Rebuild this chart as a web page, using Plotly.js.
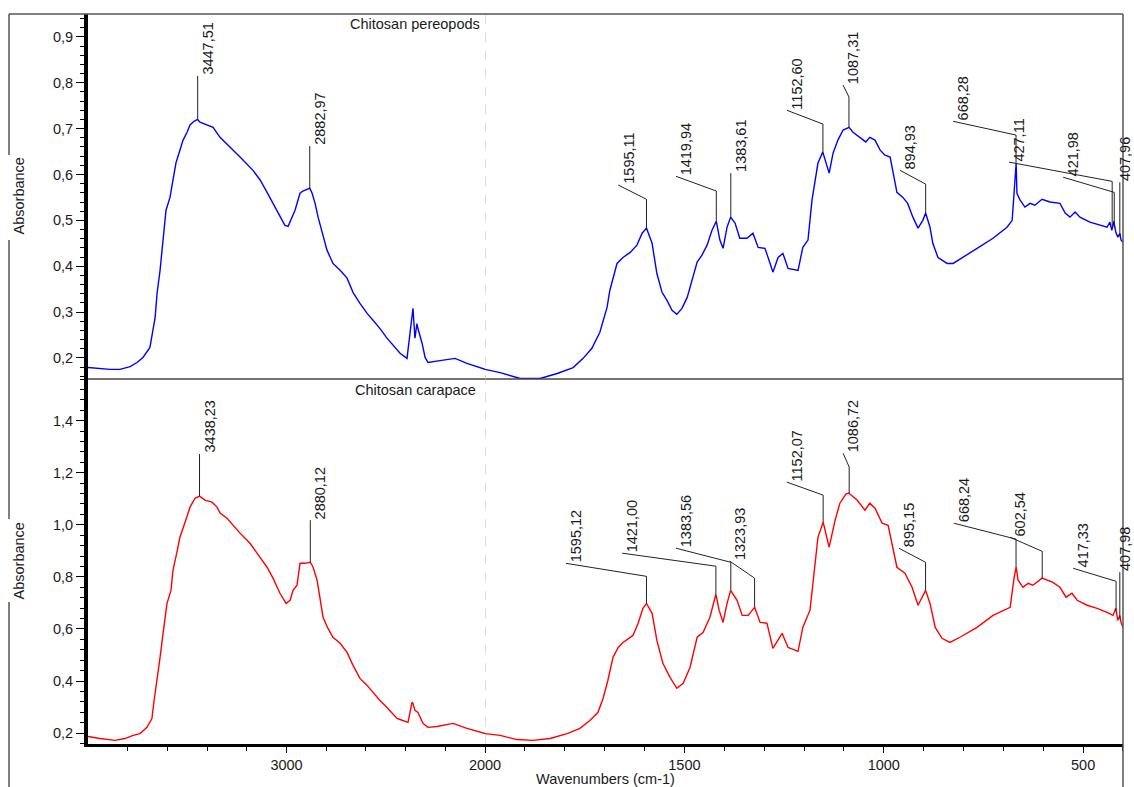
<!DOCTYPE html>
<html><head><meta charset="utf-8">
<script src="https://cdn.plot.ly/plotly-3.0.1.min.js"></script>
<style>html,body{margin:0;padding:0;background:#fff}#chart{width:1134px;height:787px}</style>
</head><body><div id="chart"></div>
<script>
// ---------- DATA ----------
const wnTop = [4000,3940,3889,3839,3788,3753,3723,3688,3673,3662,3652,3637,3622,3607,3587,3572,3557,3537,3521,3501,3486,3466,3448,3436,3400,3370,3335,3285,3234,3169,3133,3098,3068,3033,3008,2992,2972,2957,2932,2917,2900,2883,2871,2856,2841,2821,2796,2766,2730,2695,2665,2630,2594,2564,2529,2494,2443,2428,2393,2373,2363,2353,2343,2338,2317,2302,2287,2227,2151,2091,2010,2000,1962,1912,1862,1819,1779,1754,1732,1712,1694,1687,1679,1669,1654,1636,1619,1606,1595,1581,1569,1556,1544,1531,1519,1506,1493,1481,1468,1456,1443,1431,1420,1411,1403,1393,1384,1373,1361,1343,1328,1315,1298,1285,1278,1265,1253,1240,1215,1203,1190,1180,1172,1165,1153,1137,1127,1115,1102,1087,1077,1060,1045,1035,1022,1009,997,984,977,967,952,940,927,914,902,895,884,877,864,841,826,801,766,726,691,678,673,668,666,658,646,633,621,603,583,558,545,533,520,508,483,458,440,433,428,423,418,413,408,405,400];
const absTop = [0.179,0.177,0.175,0.175,0.181,0.190,0.201,0.223,0.260,0.288,0.341,0.391,0.457,0.522,0.550,0.588,0.625,0.653,0.675,0.692,0.708,0.716,0.720,0.714,0.708,0.703,0.681,0.660,0.638,0.609,0.588,0.561,0.537,0.507,0.489,0.487,0.507,0.522,0.559,0.564,0.567,0.570,0.559,0.537,0.507,0.472,0.435,0.406,0.391,0.374,0.343,0.319,0.297,0.282,0.264,0.243,0.216,0.210,0.199,0.282,0.308,0.243,0.275,0.264,0.232,0.201,0.190,0.194,0.199,0.188,0.177,0.175,0.168,0.155,0.155,0.166,0.179,0.199,0.221,0.256,0.310,0.347,0.376,0.406,0.419,0.430,0.446,0.472,0.483,0.450,0.384,0.343,0.326,0.304,0.295,0.308,0.332,0.369,0.409,0.424,0.446,0.478,0.498,0.457,0.439,0.485,0.507,0.494,0.461,0.461,0.472,0.441,0.439,0.406,0.387,0.419,0.428,0.395,0.391,0.441,0.457,0.544,0.588,0.625,0.649,0.603,0.647,0.675,0.697,0.703,0.692,0.681,0.671,0.681,0.675,0.653,0.642,0.638,0.603,0.561,0.550,0.537,0.507,0.483,0.500,0.516,0.485,0.450,0.419,0.406,0.406,0.419,0.439,0.461,0.485,0.500,0.559,0.625,0.559,0.544,0.529,0.537,0.533,0.546,0.540,0.537,0.516,0.507,0.518,0.507,0.496,0.489,0.485,0.496,0.478,0.498,0.474,0.463,0.472,0.457,0.452];

const wnBottom = [4000,3940,3864,3814,3773,3738,3703,3678,3667,3652,3637,3622,3602,3582,3572,3552,3537,3511,3486,3461,3438,3411,3375,3350,3335,3300,3269,3234,3184,3133,3098,3068,3033,3002,2982,2967,2947,2932,2907,2880,2866,2846,2831,2816,2791,2766,2730,2695,2665,2630,2594,2564,2529,2494,2443,2428,2388,2368,2363,2353,2338,2312,2287,2242,2161,2091,2000,1962,1920,1880,1837,1794,1762,1737,1717,1704,1692,1679,1666,1654,1629,1616,1604,1595,1581,1569,1554,1536,1519,1503,1486,1468,1453,1436,1421,1413,1403,1393,1384,1368,1355,1340,1324,1310,1293,1278,1255,1240,1215,1203,1185,1177,1165,1152,1137,1122,1110,1095,1087,1085,1067,1047,1035,1022,1004,989,977,967,947,929,914,895,884,871,854,834,809,766,726,683,673,668,663,651,638,626,603,576,558,543,528,515,490,465,440,425,418,413,408,405,400];
const absBottom = [0.187,0.179,0.172,0.179,0.191,0.198,0.222,0.256,0.325,0.402,0.491,0.583,0.698,0.748,0.825,0.895,0.952,1.010,1.068,1.102,1.110,1.095,1.087,1.068,1.045,1.025,0.998,0.968,0.929,0.875,0.837,0.795,0.737,0.698,0.710,0.748,0.768,0.852,0.852,0.856,0.837,0.787,0.710,0.645,0.602,0.568,0.545,0.510,0.460,0.410,0.383,0.356,0.325,0.298,0.256,0.252,0.241,0.318,0.314,0.287,0.279,0.237,0.222,0.225,0.237,0.218,0.198,0.191,0.175,0.172,0.179,0.198,0.218,0.248,0.279,0.333,0.402,0.491,0.529,0.548,0.575,0.622,0.679,0.698,0.660,0.556,0.468,0.414,0.372,0.391,0.452,0.568,0.587,0.645,0.733,0.672,0.625,0.698,0.748,0.710,0.652,0.652,0.683,0.625,0.622,0.525,0.583,0.529,0.514,0.606,0.672,0.787,0.952,1.010,0.914,1.018,1.083,1.118,1.122,1.118,1.095,1.056,1.083,1.064,1.006,0.998,0.902,0.837,0.814,0.760,0.691,0.748,0.698,0.606,0.564,0.548,0.568,0.606,0.652,0.683,0.798,0.837,0.787,0.760,0.775,0.768,0.795,0.779,0.760,0.722,0.737,0.710,0.691,0.679,0.664,0.652,0.679,0.633,0.652,0.625,0.606];

// peak labels
const peakTopText = ["3447,51","2882,97","1595,11","1419,94","1383,61","1152,60","1087,31","894,93","668,28","427,11","421,98","407,96"];
const peakTopWn   = [3447.51,2882.97,1595.11,1419.94,1383.61,1152.60,1087.31,894.93,668.28,427.11,421.98,407.96];
const peakTopAbs  = [0.720,0.570,0.483,0.498,0.507,0.649,0.703,0.516,0.625,0.485,0.485,0.465];

const peakBotText = ["3438,23","2880,12","1595,12","1421,00","1383,56","1323,93","1152,07","1086,72","895,15","668,24","602,54","417,33","407,98"];
const peakBotWn   = [3438.23,2880.12,1595.12,1421.00,1383.56,1323.93,1152.07,1086.72,895.15,668.24,602.54,417.33,407.98];
const peakBotAbs  = [1.110,0.856,0.698,0.733,0.748,0.683,1.010,1.122,0.748,0.837,0.795,0.670,0.640];

// leader-line placement (layout, not data)
const kneeTop   = [0.815,0.662,0.546,0.564,0.603,0.710,0.769,0.579,0.686,0.585,0.561,0.583];
const tagTopWn  = [3447.51,2882.97,1666,1521,1383.61,1243,1102,959,826,686,550,407.96];
const tagTopAbs = [0.815,0.662,0.577,0.596,0.603,0.740,0.795,0.609,0.716,0.627,0.594,0.583];
const tagTopShift = [1,1,1,1,1,1,1,1,1,1,1,-4];

const kneeBot   = [1.272,1.018,0.802,0.841,0.856,0.795,1.114,1.222,0.856,0.945,0.898,0.783,0.818];
const tagBotWn  = [3438.23,2880.12,1797,1656,1521,1386,1243,1102,962,824,683,525,407.98];
const tagBotAbs = [1.272,1.018,0.852,0.891,0.910,0.860,1.164,1.275,0.910,1.006,0.952,0.833,0.818];
const tagBotShift = [1,1,1,1,1,1,1,1,1,1,1,1,-4];

const panelTitles = ["Chitosan pereopods","Chitosan carapace"];
const yTitle = "Absorbance";
const xTitle = "Wavenumbers (cm-1)";

// ---------- BUILD ----------
const FONT = 'Liberation Sans, Arial, sans-serif';
const TXT = '#1a1a1a';
function part(wn, ab, hi){
  const xs=[], ys=[];
  wn.forEach((w,i)=>{ if(hi ? w>=2000 : w<=2000){ xs.push(w); ys.push(ab[i]); } });
  return {xs, ys};
}
const traces = [];
[[wnTop,absTop,'y','#0000ff'],[wnBottom,absBottom,'y2','#ff0000']].forEach(([wn,ab,ya,col])=>{
  [[true,'x'],[false,'x2']].forEach(([hi,xa])=>{
    const p = part(wn,ab,hi);
    traces.push({x:p.xs, y:p.ys, xaxis:xa, yaxis:ya, mode:'lines',
      line:{color:col, width:1.4}, hoverinfo:'skip', showlegend:false});
  });
});

const shapes = [];
const annotations = [];
function addPeaks(texts, wns, abss, knees, tws, tas, shifts, ya){
  texts.forEach((t,i)=>{
    const xa = wns[i] >= 2000 ? 'x' : 'x2';
    shapes.push({type:'path', xref:xa, yref:ya,
      path:`M ${wns[i]},${abss[i]} L ${wns[i]},${knees[i]} L ${tws[i]},${tas[i]}`,
      line:{color:'#222', width:1}});
    annotations.push({xref:xa, yref:ya, x:tws[i], y:tas[i], text:t, textangle:-90,
      xanchor:'left', yanchor:'bottom', showarrow:false, borderpad:0, xshift:shifts[i],
      font:{family:FONT, size:14.5, color:TXT}});
  });
}
addPeaks(peakTopText, peakTopWn, peakTopAbs, kneeTop, tagTopWn, tagTopAbs, tagTopShift, 'y');
addPeaks(peakBotText, peakBotWn, peakBotAbs, kneeBot, tagBotWn, tagBotAbs, tagBotShift, 'y2');

// frame & decorations (paper coords)
const LX = -79/1035;
const BOT = -43/730;
shapes.push(
  {type:'line', xref:'paper', yref:'paper', x0:LX, x1:1, y0:1, y1:1, line:{color:'#555', width:1.5}},
  {type:'line', xref:'paper', yref:'paper', x0:1, x1:1, y0:1, y1:BOT, line:{color:'#555', width:1.5}},
  {type:'line', xref:'paper', yref:'paper', x0:0, x1:1, y0:0.5, y1:0.5, line:{color:'#444', width:1.5}},
  {type:'line', xref:'paper', yref:'paper', x0:LX, x1:LX, y0:1, y1:0.8068, line:{color:'#555', width:1.5}},
  {type:'line', xref:'paper', yref:'paper', x0:LX, x1:LX, y0:0.6904, y1:0.3082, line:{color:'#555', width:1.5}},
  {type:'line', xref:'paper', yref:'paper', x0:LX, x1:LX, y0:0.1945, y1:BOT, line:{color:'#555', width:1.5}},
  {type:'line', xref:'x2', yref:'paper', x0:2000, x1:2000, y0:0, y1:1, line:{color:'#bbb', width:1, dash:'dash'}}
);

annotations.push(
  {xref:'x2', yref:'paper', x:2000, y:1, xanchor:'right', yanchor:'top', xshift:-3, showarrow:false,
   text:panelTitles[0], font:{family:FONT, size:14.5, color:TXT}},
  {xref:'x2', yref:'paper', x:2000, y:0.5, xanchor:'right', yanchor:'top', xshift:-7, yshift:-1, showarrow:false,
   text:panelTitles[1], font:{family:FONT, size:14.5, color:TXT}},
  {xref:'paper', yref:'paper', x:0, y:0.75, xanchor:'center', yanchor:'middle', xshift:-70, showarrow:false,
   textangle:-90, text:yTitle, font:{family:FONT, size:14.5, color:TXT}},
  {xref:'paper', yref:'paper', x:0, y:0.25, xanchor:'center', yanchor:'middle', xshift:-70, showarrow:false,
   textangle:-90, text:yTitle, font:{family:FONT, size:14.5, color:TXT}},
  {xref:'paper', yref:'paper', x:0.5, y:0, xanchor:'center', yanchor:'middle', yshift:-35, showarrow:false,
   text:xTitle, font:{family:FONT, size:14.5, color:TXT}}
);

const xCommon = {anchor:'y2', showline:true, linecolor:'#000', linewidth:3, ticks:'outside', ticklen:6,
  tickwidth:1, tickcolor:'#000', showgrid:false, zeroline:false, fixedrange:true,
  tickfont:{family:FONT, size:14.5, color:TXT}};
const yCommon = {anchor:'x', showline:true, linecolor:'#000', linewidth:4, ticks:'outside', ticklen:8,
  tickwidth:1, tickcolor:'#000', showgrid:false, zeroline:false, fixedrange:true, tickformat:'.1f',
  tickfont:{family:FONT, size:14.5, color:TXT}};

const layout = {
  width:1134, height:787, margin:{l:88, r:11, t:14, b:43},
  paper_bgcolor:'#fff', plot_bgcolor:'#fff', showlegend:false, separators:',.',
  font:{family:FONT, size:14.5, color:TXT},
  xaxis: Object.assign({}, xCommon, {domain:[0,0.3836], range:[4000,2000], tickmode:'array', tickvals:[3000],
    minor:{tickmode:'array', tickvals:[3800,3600,3400,3200,2800,2600,2400,2200], ticks:'outside', ticklen:3.5, tickcolor:'#000'}}),
  xaxis2: Object.assign({}, xCommon, {domain:[0.3836,1], range:[2000,400], tickmode:'array', tickvals:[2000,1500,1000,500],
    minor:{tick0:0, dtick:100, ticks:'outside', ticklen:3.5, tickcolor:'#000'}}),
  yaxis: Object.assign({}, yCommon, {domain:[0.5,1], range:[0.154,0.95], tick0:0, dtick:0.1,
    minor:{tick0:0, dtick:0.02, ticks:'outside', ticklen:4, tickcolor:'#000'}}),
  yaxis2: Object.assign({}, yCommon, {domain:[0,0.5], range:[0.158,1.56], tick0:0, dtick:0.2,
    minor:{tick0:0, dtick:0.04, ticks:'outside', ticklen:4, tickcolor:'#000'}}),
  shapes, annotations
};
Plotly.newPlot('chart', traces, layout, {staticPlot:true, displayModeBar:false});
</script>
</body></html>
